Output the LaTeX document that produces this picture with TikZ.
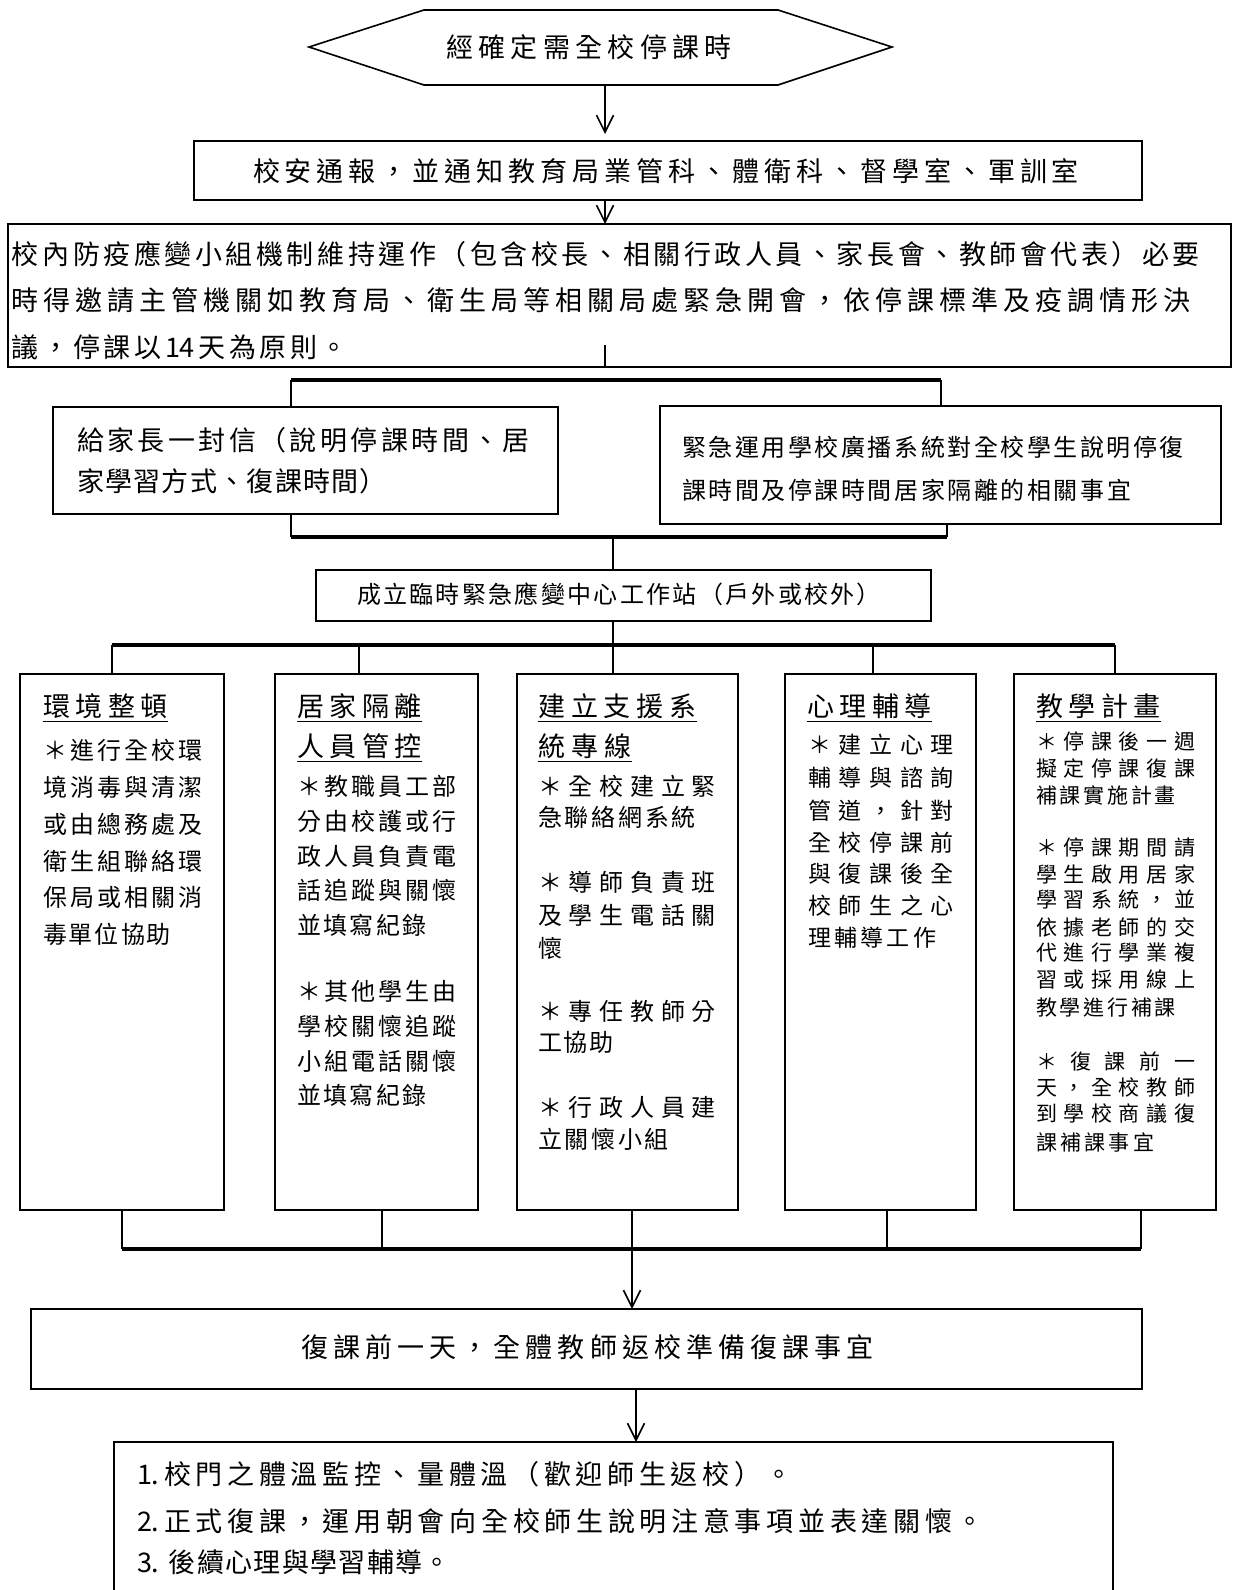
\documentclass[tikz,border=0pt]{standalone}
\usepackage{fontspec}
\setmainfont{Noto Sans CJK TC}
\usetikzlibrary{arrows.meta}
\makeatletter
\def\spread#1#2{\hbox to #1{\spread@a#2\relax}}
\def\spread@a#1{\ifx\relax#1\else#1\expandafter\spread@b\fi}
\def\spread@b#1{\ifx\relax#1\else\hfill#1\expandafter\spread@b\fi}
\makeatother
\newcommand\TL[6][]{\node[txt,#1] (#2) at (#3,#4) {\spread{#5pt}{#6}};}
\newcommand\BX[5]{\node[box, minimum width={(#4-#2)*1pt}, minimum height={(#5-#3)*1pt}] (#1) at ({(#2+#4)/2},{(#3+#5)/2}) {};}
\tikzset{
  txt/.style={anchor=west, inner sep=0pt, outer sep=0pt},
  fA/.style={font=\fontsize{27}{32}\selectfont},
  fB/.style={font=\fontsize{24}{28}\selectfont},
  fD/.style={font=\fontsize{23}{27}\selectfont},
  fC/.style={font=\fontsize{21}{25}\selectfont},
  box/.style={draw, line width=1.6pt, inner sep=0pt, outer sep=0pt},
  arr/.style={line width=1.6pt, -{Straight Barb[length=17pt,width=17pt,line width=1.6pt]}},
  brh/.style={line width=4pt},
  brv/.style={line width=2.6pt},
  uline/.style={line width=1.8pt},
}
\begin{document}
\begin{tikzpicture}[x=1pt,y=-1pt]
\useasboundingbox (0,0) rectangle (1232,1590);
% hexagon
\draw[line width=1.6pt] (309,47) -- (424,10) -- (778,10) -- (892,47) -- (778,85) -- (424,85) -- cycle;
\coordinate (hexb) at (605,85);
\TL[fA]{t0}{446}{47}{286}{經確定需全校停課時}
% boxes
\BX{b2}{194}{141}{1142}{200}
\BX{b3}{8}{224}{1231}{367}
\BX{b4}{53}{407}{558}{514}
\BX{b5}{660}{406}{1221}{524}
\BX{b6}{316}{570}{931}{621}
\BX{c1}{20}{674}{224}{1210}
\BX{c2}{275}{674}{478}{1210}
\BX{c3}{517}{674}{738}{1210}
\BX{c4}{785}{674}{976}{1210}
\BX{c5}{1014}{674}{1216}{1210}
\BX{b7}{31}{1309}{1142}{1389}
\BX{b8}{114}{1442}{1113}{1600}
% connectors
\draw[arr, shorten >=7pt] (hexb) -- (605,0 |- b2.north);
\draw[arr] (605,0 |- b2.south) -- (605,0 |- b3.north);
\coordinate (b3m) at (605,345);
\draw[line width=1.6pt] (b3m) -- (605,0 |- b3.south);
\coordinate (tbL) at (291,380);
\coordinate (tbR) at (941,380);
\draw[brh] (tbL) -- (tbR);
\draw[brv] (tbL) -- (291,0 |- b4.north);
\draw[brv] (tbR) -- (941,0 |- b5.north);
\coordinate (bbL) at (291,537);
\coordinate (bbR) at (947,537);
\coordinate (bbM) at (613,537);
\draw[brh] (bbL) -- (bbR);
\draw[brv] (291,0 |- b4.south) -- (bbL);
\draw[brv] (947,0 |- b5.south) -- (bbR);
\draw[brv] (bbM) -- (613,0 |- b6.north);
\coordinate (fvL) at (112,645);
\coordinate (fvR) at (1115,645);
\coordinate (fvM) at (613,645);
\draw[brv] (613,0 |- b6.south) -- (fvM);
\draw[brh] (fvL) -- (fvR);
\draw[brv] (fvL) -- (112,0 |- c1.north);
\draw[brv] (359,645) -- (359,0 |- c2.north);
\draw[brv] (fvM) -- (613,0 |- c3.north);
\draw[brv] (873,645) -- (873,0 |- c4.north);
\draw[brv] (fvR) -- (1115,0 |- c5.north);
\coordinate (lbL) at (122,1249);
\coordinate (lbR) at (1141,1249);
\draw[brh] (lbL) -- (lbR);
\draw[brv] (122,0 |- c1.south) -- (lbL);
\draw[brv] (382,0 |- c2.south) -- (382,1249);
\draw[brv] (887,0 |- c4.south) -- (887,1249);
\draw[brv] (1141,0 |- c5.south) -- (lbR);
\draw[arr] (632,0 |- c3.south) -- (632,0 |- b7.north);
\draw[arr] (636,0 |- b7.south) -- (636,0 |- b8.north);
% texts
\TL[fA]{t2}{253}{171}{826}{校安通報，並通知教育局業管科、體衛科、督學室、軍訓室}
\TL[fA]{t3a}{12}{254}{1188}{校內防疫應變小組機制維持運作（包含校長、相關行政人員、家長會、教師會代表）必要}
\TL[fA]{t3b}{12}{300}{1179}{時得邀請主管機關如教育局、衛生局等相關局處緊急開會，依停課標準及疫調情形決}
\TL[fA]{t3c}{12}{347}{336}{議，停課以{14}天為原則。}
\TL[fA]{t4a}{77}{440}{453}{給家長一封信（說明停課時間、居}
\TL[fA]{t4b}{77}{481}{310}{家學習方式、復課時間）}
\TL[fB]{t5a}{682}{447}{502}{緊急運用學校廣播系統對全校學生說明停復}
\TL[fB]{t5b}{682}{490}{449}{課時間及停課時間居家隔離的相關事宜}
\TL[fB]{t6}{357}{594}{524}{成立臨時緊急應變中心工作站（戶外或校外）}
% titles
\TL[fA]{h1}{43}{706}{125}{環境整頓}
\TL[fA]{h2a}{297}{706}{125}{居家隔離}
\TL[fA]{h2b}{297}{746}{125}{人員管控}
\TL[fA]{h3a}{538}{706}{159}{建立支援系}
\TL[fA]{h3b}{538}{746}{94}{統專線}
\TL[fA]{h4}{807}{706}{125}{心理輔導}
\TL[fA]{h5}{1036}{706}{125}{教學計畫}
\foreach \n in {h1,h2a,h2b,h3a,h3b,h4,h5}
  \draw[uline] ([yshift=-3pt]\n.south west) -- ([yshift=-3pt]\n.south east);
% column 1
\TL[fB]{p1a}{43}{750}{159}{＊進行全校環}
\TL[fB]{p1b}{43}{787}{159}{境消毒與清潔}
\TL[fB]{p1c}{43}{824}{159}{或由總務處及}
\TL[fB]{p1d}{43}{861}{159}{衛生組聯絡環}
\TL[fB]{p1e}{43}{897}{159}{保局或相關消}
\TL[fB]{p1f}{43}{934}{128}{毒單位協助}
% column 2
\TL[fB]{p2a}{297}{786}{159}{＊教職員工部}
\TL[fB]{p2b}{297}{821}{159}{分由校護或行}
\TL[fB]{p2c}{297}{856}{159}{政人員負責電}
\TL[fB]{p2d}{297}{890}{159}{話追蹤與關懷}
\TL[fB]{p2e}{297}{925}{130}{並填寫紀錄}
\TL[fB]{p2f}{297}{991}{159}{＊其他學生由}
\TL[fB]{p2g}{297}{1026}{159}{學校關懷追蹤}
\TL[fB]{p2h}{297}{1061}{159}{小組電話關懷}
\TL[fB]{p2i}{297}{1095}{130}{並填寫紀錄}
% column 3
\TL[fB]{p3a}{538}{786}{178}{＊全校建立緊}
\TL[fB]{p3b}{538}{817}{158}{急聯絡網系統}
\TL[fB]{p3c}{538}{882}{178}{＊導師負責班}
\TL[fB]{p3d}{538}{915}{178}{及學生電話關}
\TL[fB]{p3e}{538}{948}{24}{懷}
\TL[fB]{p3f}{538}{1011}{178}{＊專任教師分}
\TL[fB]{p3g}{538}{1042}{76}{工協助}
\TL[fB]{p3h}{538}{1107}{178}{＊行政人員建}
\TL[fB]{p3i}{538}{1139}{131}{立關懷小組}
% column 4
\TL[fD]{p4a}{808}{745}{146}{＊建立心理}
\TL[fD]{p4b}{808}{778}{146}{輔導與諮詢}
\TL[fD]{p4c}{808}{811}{146}{管道，針對}
\TL[fD]{p4d}{808}{843}{146}{全校停課前}
\TL[fD]{p4e}{808}{874}{146}{與復課後全}
\TL[fD]{p4f}{808}{906}{146}{校師生之心}
\TL[fD]{p4g}{808}{938}{128}{理輔導工作}
% column 5
\TL[fC]{p5a}{1036}{741}{159}{＊停課後一週}
\TL[fC]{p5b}{1036}{768}{159}{擬定停課復課}
\TL[fC]{p5c}{1036}{795}{140}{補課實施計畫}
\TL[fC]{p5d}{1036}{848}{159}{＊停課期間請}
\TL[fC]{p5e}{1036}{874}{159}{學生啟用居家}
\TL[fC]{p5f}{1036}{900}{159}{學習系統，並}
\TL[fC]{p5g}{1036}{927}{159}{依據老師的交}
\TL[fC]{p5h}{1036}{953}{159}{代進行學業複}
\TL[fC]{p5i}{1036}{980}{159}{習或採用線上}
\TL[fC]{p5j}{1036}{1007}{140}{教學進行補課}
\TL[fC]{p5k}{1036}{1061}{159}{＊復課前一}
\TL[fC]{p5l}{1036}{1087}{159}{天，全校教師}
\TL[fC]{p5m}{1036}{1114}{159}{到學校商議復}
\TL[fC]{p5n}{1036}{1142}{118}{課補課事宜}
% bottom
\TL[fA]{t7}{301}{1347}{573}{復課前一天，全體教師返校準備復課事宜}
\TL[fA]{t8a}{137}{1474}{656}{{1.}校門之體溫監控、量體溫（歡迎師生返校）。}
\TL[fA]{t8b}{137}{1521}{847}{{2.}正式復課，運用朝會向全校師生說明注意事項並表達關懷。}
\TL[fA]{t8c}{137}{1562}{314}{{3. }後續心理與學習輔導。}
\end{tikzpicture}
\end{document}
